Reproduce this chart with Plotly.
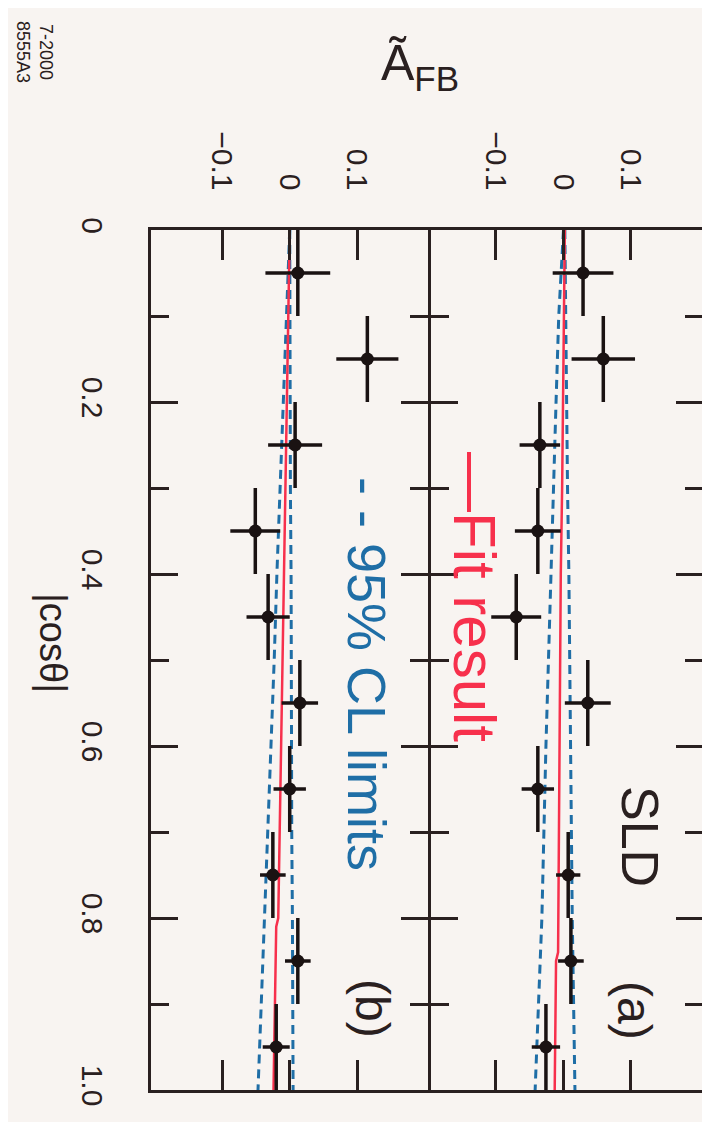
import plotly.graph_objects as go

# ---------------- data ----------------
cos_centers = [0.05, 0.15, 0.25, 0.35, 0.45, 0.55, 0.65, 0.75, 0.85, 0.95]
cos_halfwidth = [0.05, 0.05, 0.05, 0.05, 0.05, 0.05, 0.05, 0.05, 0.05, 0.05]

# panel (a)
afb_a = [0.029, 0.059, -0.035, -0.038, -0.070, 0.036, -0.038, 0.007, 0.011, -0.026]
err_a = [0.045, 0.047, 0.030, 0.034, 0.037, 0.034, 0.024, 0.018, 0.019, 0.021]
# panel (b)
afb_b = [0.012, 0.115, 0.008, -0.051, -0.032, 0.015, 0.000, -0.025, 0.012, -0.020]
err_b = [0.048, 0.046, 0.040, 0.037, 0.032, 0.027, 0.024, 0.019, 0.019, 0.020]

# fit results
fit_cos_a = [0.0, 0.1, 0.2, 0.3, 0.4, 0.5, 0.6, 0.7, 0.8, 0.84, 0.85, 0.9, 1.0]
fit_a = [0.002, 0.001, -0.001, -0.002, -0.004, -0.005, -0.006, -0.007, -0.008, -0.008, -0.011, -0.012, -0.013]
fit_cos_b = [0.0, 0.1, 0.2, 0.3, 0.4, 0.5, 0.6, 0.7, 0.8, 0.81, 0.9, 1.0]
fit_b = [0.000, -0.002, -0.004, -0.006, -0.009, -0.011, -0.013, -0.015, -0.017, -0.020, -0.022, -0.024]

# 95% CL limits
lim_cos = [0.0, 0.1, 0.2, 0.3, 0.4, 0.5, 0.6, 0.7, 0.8, 0.9, 1.0]
lo_a = [0.000, -0.007, -0.011, -0.015, -0.019, -0.022, -0.026, -0.029, -0.032, -0.037, -0.042]
up_a = [0.002, 0.003, 0.005, 0.006, 0.008, 0.009, 0.010, 0.012, 0.013, 0.015, 0.017]
lo_b = [0.000, -0.005, -0.009, -0.014, -0.019, -0.023, -0.028, -0.033, -0.037, -0.042, -0.047]
up_b = [0.000, 0.000, 0.001, 0.001, 0.002, 0.002, 0.003, 0.003, 0.004, 0.004, 0.005]

afb_tickvals = [-0.1, 0.0, 0.1]
afb_ticktext = ["\u22120.1", "0", "0.1"]
cos_tickvals = [0.0, 0.2, 0.4, 0.6, 0.8, 1.0]
cos_ticktext = ["0", "0.2", "0.4", "0.6", "0.8", "1.0"]
cos_minorvals = [0.1, 0.3, 0.5, 0.7, 0.9]

# ---------------- style ----------------
W, H = 710, 1122
PL, PR, PT, PB = 143, 695, 222, 1082
BG = "#f8f4f1"
INK = "#2a2020"
RED = "#f7304c"
BLUE = "#1f6ea6"
FONT = "Liberation Sans, Arial, Helvetica, sans-serif"
MID = 421
LW = 3
dom_b_end = (MID - LW / 2 - PL) / (PR - PL)
dom_a_start = (MID + LW / 2 - PL) / (PR - PL)


def px(xp, yp):
    return (xp - PL) / (PR - PL), 1 - (yp - PT) / (PB - PT)


fig = go.Figure()

panels = [("x", "y", afb_b, err_b, fit_cos_b, fit_b, lo_b, up_b),
          ("x2", "y2", afb_a, err_a, fit_cos_a, fit_a, lo_a, up_a)]
for xa, ya, vals, errs, fc, fv, lo, up in panels:
    fig.add_trace(go.Scatter(x=lo, y=lim_cos, mode="lines", xaxis=xa, yaxis=ya,
                             line=dict(color=BLUE, width=3, dash="9px,6px"), showlegend=False))
    fig.add_trace(go.Scatter(x=up, y=lim_cos, mode="lines", xaxis=xa, yaxis=ya,
                             line=dict(color=BLUE, width=3, dash="9px,6px"), showlegend=False))
    fig.add_trace(go.Scatter(x=fv, y=fc, mode="lines", xaxis=xa, yaxis=ya,
                             line=dict(color=RED, width=2.5), showlegend=False))
    fig.add_trace(go.Scatter(x=vals, y=cos_centers, mode="markers", xaxis=xa, yaxis=ya,
                             marker=dict(color="#1a1212", size=13),
                             error_x=dict(type="data", array=errs, color="#1a1212", thickness=3.5, width=0),
                             error_y=dict(type="data", array=cos_halfwidth, color="#1a1212", thickness=3.5, width=0),
                             showlegend=False))

xcommon = dict(side="top", tickvals=afb_tickvals, ticktext=afb_ticktext,
               ticks="inside", ticklen=30, tickwidth=3, tickcolor=INK,
               showline=True, linewidth=LW, linecolor=INK, mirror="ticks",
               tickangle=90, tickfont=dict(size=30, color=INK, family=FONT),
               ticklabelstandoff=26, showgrid=False, zeroline=False)
ycommon = dict(range=[1.0, 0.0], domain=[0, 1], tickvals=cos_tickvals, ticktext=cos_ticktext,
               ticks="inside", ticklen=27, tickwidth=3, tickcolor=INK,
               minor=dict(tickvals=cos_minorvals, ticks="inside", ticklen=18, tickwidth=3, tickcolor=INK),
               showline=True, linewidth=LW, linecolor=INK, mirror="ticks",
               tickangle=90, tickfont=dict(size=30, color=INK, family=FONT),
               ticklabelstandoff=30, showgrid=False, zeroline=False)

fig.update_layout(
    width=W, height=H,
    margin=dict(l=PL, r=W - PR, t=PT, b=H - PB, pad=0),
    paper_bgcolor=BG, plot_bgcolor=BG,
    font=dict(family=FONT, color=INK),
    xaxis=dict(domain=[0, dom_b_end], range=[-0.2055, 0.2041], anchor="y", **xcommon),
    xaxis2=dict(domain=[dom_a_start, 1], range=[-0.1970, 0.2067], anchor="y2", **xcommon),
    yaxis=dict(anchor="x", **ycommon),
    yaxis2=dict(anchor="x2", matches="y", showticklabels=False,
                **{k: v for k, v in ycommon.items() if k not in ("tickfont", "ticklabelstandoff")}),
)

anns = [
    ("\u00c3<sub>FB</sub>", 412, 58, 0, 50, INK),
    ("|cos\u03b8|", 45, 635, 90, 38, INK),
    ("7-2000<br>8555A3", 26, 44, 90, 18, INK),
    ("SLD", 632, 828, 90, 52, INK),
    ("(a)", 627, 1002, 90, 48, INK),
    ("(b)", 365, 1000, 90, 48, INK),
    ("\u2014Fit result", 467, 589, 90, 60, RED),
    ("- - 95% CL limits", 359, 666, 90, 54, BLUE),
]
for text, xp, yp, ang, size, col in anns:
    ax, ay = px(xp, yp)
    fig.add_annotation(text=text, x=ax, y=ay, xref="paper", yref="paper",
                       xanchor="center", yanchor="middle", showarrow=False,
                       textangle=ang, font=dict(size=size, color=col, family=FONT))

fig.write_html("out.html")
